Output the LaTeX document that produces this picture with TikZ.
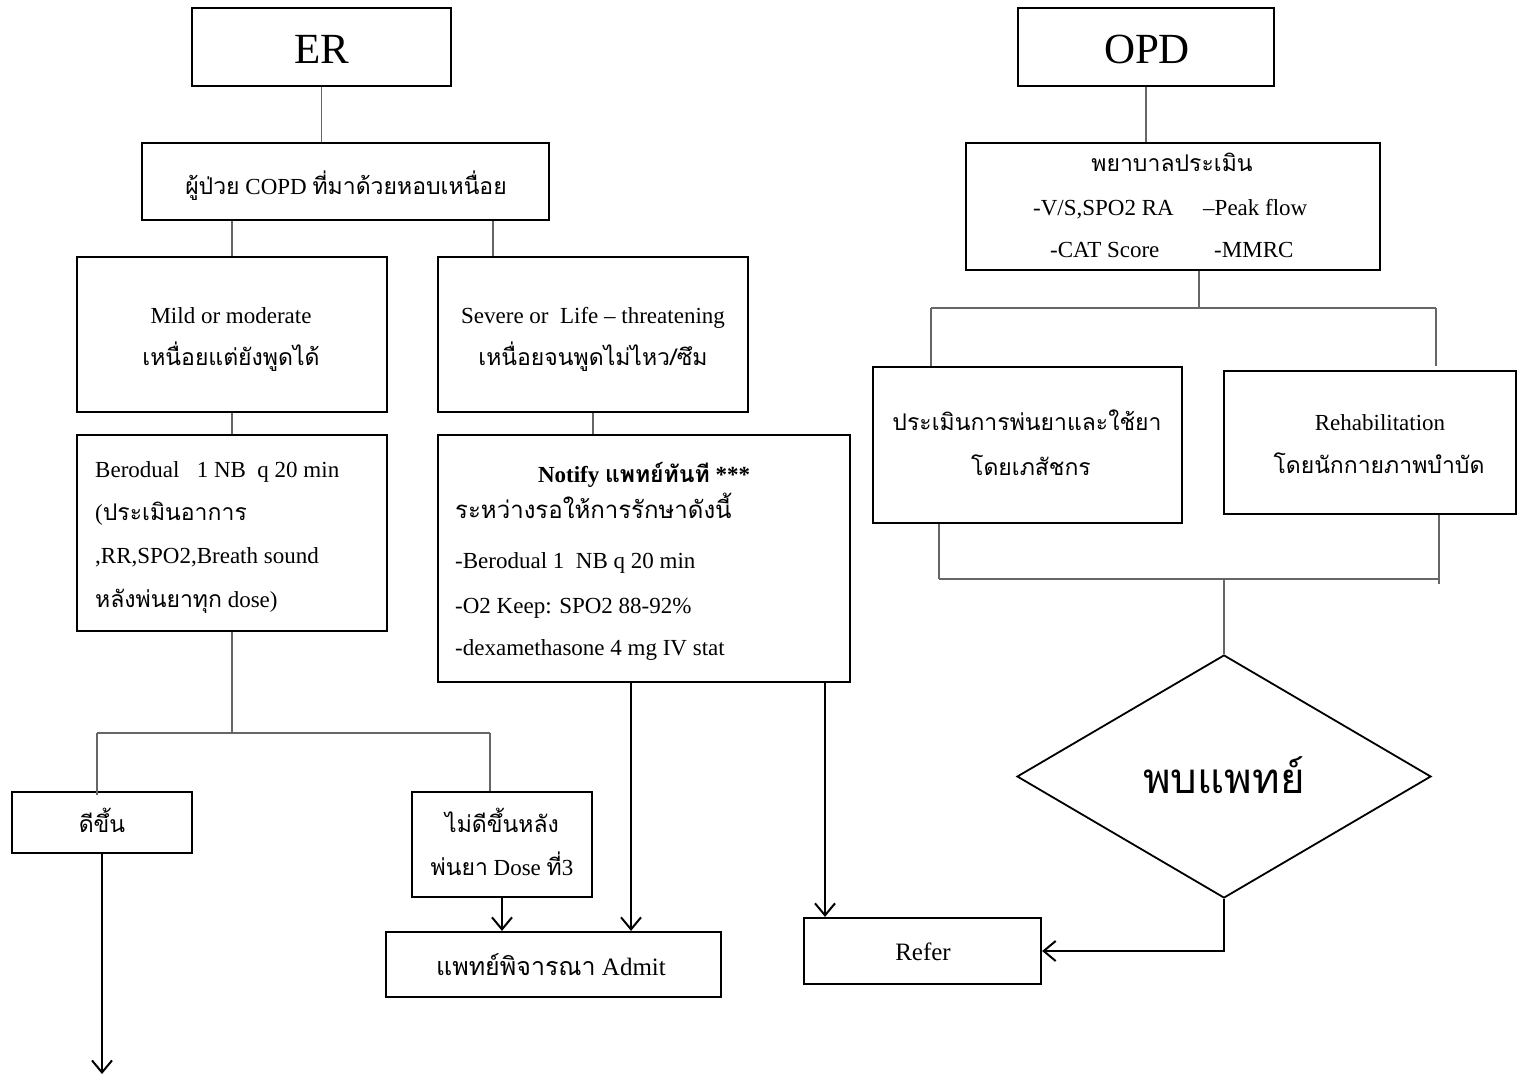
\documentclass[tikz,border=0pt]{standalone}
\usepackage{fontspec}
\setmainfont{Liberation Serif}
\newfontfamily\thaifont[Script=Thai]{Loma}
\newcommand\tha[1]{{\thaifont #1}}
\newcommand\bodysize{\fontsize{23}{27}\selectfont}
\usetikzlibrary{arrows.meta,shapes.geometric}

\tikzset{
  box/.style={draw=black, line width=2.2pt, rectangle, inner sep=0pt},
  link/.style={draw=black!60, line width=1.2pt},
  flow/.style={draw=black, line width=2pt,
    -{Straight Barb[length=12pt,width=20pt,line width=2pt]}},
  ctxt/.style={anchor=base, inner sep=0pt, font=\bodysize},
  ltxt/.style={anchor=base west, inner sep=0pt, font=\bodysize},
}

\begin{document}
\begin{tikzpicture}[x=1pt,y=-1pt]
\useasboundingbox[fill=white] (0,0) rectangle (1517,1075);

% ---------- ER branch boxes ----------
\node[box, minimum width=259pt, minimum height=78pt]  (er)    at (321.5,47)   {};
\node[box, minimum width=407pt, minimum height=77pt]  (pt)    at (345.5,181.5){};
\node[box, minimum width=310pt, minimum height=155pt] (mild)  at (232,334.5)  {};
\node[box, minimum width=310pt, minimum height=155pt] (sev)   at (593,334.5)  {};
\node[box, minimum width=310pt, minimum height=196pt] (bero)  at (232,533)    {};
\node[box, minimum width=412pt, minimum height=247pt] (noti)  at (644,558.5)  {};
\node[box, minimum width=180pt, minimum height=61pt]  (better) at (102,822.5) {};
\node[box, minimum width=180pt, minimum height=105pt] (worse) at (502,844.5)  {};
\node[box, minimum width=335pt, minimum height=65pt]  (admit) at (553.5,964.5){};
\node[box, minimum width=237pt, minimum height=66pt]  (refer) at (922.5,951)  {};

% ---------- OPD branch boxes ----------
\node[box, minimum width=256pt, minimum height=78pt]  (opd)   at (1146,47)    {};
\node[box, minimum width=414pt, minimum height=127pt] (nurse) at (1173,206.5) {};
\node[box, minimum width=309pt, minimum height=156pt] (pharm) at (1027.5,445) {};
\node[box, minimum width=292pt, minimum height=143pt] (rehab) at (1370,442.5) {};
\node[draw=black, line width=1.8pt, diamond, inner sep=0pt, aspect=1.7,
      minimum width=414pt, minimum height=243pt]      (dia)   at (1224,776.5) {};

% ---------- texts ----------
\node[ctxt, font=\fontsize{43}{48}\selectfont] (erT)  at (321.5,64) {ER};
\node[ctxt, font=\fontsize{43}{48}\selectfont] (opdT) at (1147,64)  {OPD};

\node[ctxt] (ptT) at (346,195) {\tha{ผู้ป่วย} COPD \tha{ที่มาด้วยหอบเหนื่อย}};

\node[ctxt] (mildA) at (231,323) {Mild or moderate};
\node[ctxt] (mildB) at (231,365) {\tha{เหนื่อยแต่ยังพูดได้}};
\node[ctxt] (sevA)  at (593,323) {Severe or\ \ Life -- threatening};
\node[ctxt] (sevB)  at (593,365) {\tha{เหนื่อยจนพูดไม่ไหว/ซึม}};

\node[ltxt] (beroA) at (95,477) {Berodual\ \ \ 1 NB\ \ q 20 min};
\node[ltxt] (beroB) at (95,520) {(\tha{ประเมินอาการ}};
\node[ltxt] (beroC) at (95,563) {,RR,SPO2,Breath sound};
\node[ltxt] (beroD) at (95,607) {\tha{หลังพ่นยาทุก} dose)};

\node[ctxt] (notiA) at (644,482) {\bfseries Notify \tha{\bfseries แพทย์ทันที} ***};
\node[ltxt, font=\fontsize{24}{28}\selectfont] (notiB) at (455,518) {\tha{ระหว่างรอให้การรักษาดังนี้}};
\node[ltxt] (notiC) at (455,568) {-Berodual 1\ \ NB q 20 min};
\node[ltxt] (notiD) at (455,613) {-O2 Keep: SPO2 88-92\%};
\node[ltxt] (notiE) at (455,655) {-dexamethasone 4 mg IV stat};

\node[ctxt] (betterT) at (102,832) {\tha{ดีขึ้น}};
\node[ctxt] (worseA)  at (502,832) {\tha{ไม่ดีขึ้นหลัง}};
\node[ctxt] (worseB)  at (502,875) {\tha{พ่นยา} Dose \tha{ที่}3};
\node[ctxt, font=\fontsize{25}{29}\selectfont] (admitT) at (551,975) {\tha{แพทย์พิจารณา} Admit};
\node[ctxt, font=\fontsize{25}{29}\selectfont] (referT) at (923,960) {Refer};

\node[ctxt]  (nurseA) at (1172,172) {\tha{พยาบาลประเมิน}};
\node[ltxt]  (nurseB) at (1033,216) {-V/S,SPO2 RA};
\node[ltxt]  (nurseC) at (1203,216) {--Peak flow};
\node[ltxt]  (nurseD) at (1050,258) {-CAT Score};
\node[ltxt]  (nurseE) at (1214,258) {-MMRC};

\node[ctxt] (pharmA) at (1027,430) {\tha{ประเมินการพ่นยาและใช้ยา}};
\node[ctxt] (pharmB) at (1031,475) {\tha{โดยเภสัชกร}};
\node[ctxt] (rehabA) at (1380,430) {Rehabilitation};
\node[ctxt] (rehabB) at (1379,473) {\tha{โดยนักกายภาพบำบัด}};

\node[ctxt, font=\fontsize{42}{48}\selectfont] (diaT) at (1224,793) {\tha{พบแพทย์}};

% ---------- junction points ----------
\coordinate (c1) at (493,0);
\coordinate (c2) at (631,0);
\coordinate (c3) at (825,0);
\coordinate (j1l) at (97,733);
\coordinate (j1r) at (490,733);
\coordinate (bend) at (102,1074);
\coordinate (c4) at (1199,0);
\coordinate (j2l) at (931,308);
\coordinate (j2r) at (1436,308);
\coordinate (j3l) at (939,579);
\coordinate (j3r) at (1439,579);

% ---------- ER connectors ----------
\draw[link] (er.south) -- (er.south |- pt.north);
\draw[link] (mild.north |- pt.south) -- (mild.north);
\draw[link] (pt.south -| c1) -- (sev.north -| c1);
\draw[link] (mild.south) -- (bero.north);
\draw[link] (sev.south) -- (sev.south |- noti.north);
\draw[link] (bero.south) -- (bero.south |- j1l);
\draw[link] (j1l) -- (j1r);
\draw[link] (j1l) -- ([yshift=-4pt]j1l |- better.north);
\draw[link] (j1r) -- (j1r |- worse.north);
\draw[flow] (better.south) -- (bend);
\draw[flow] (worse.south) -- (worse.south |- admit.north);
\draw[flow] (noti.south -| c2) -- (admit.north -| c2);
\draw[flow] (noti.south -| c3) -- (refer.north -| c3);

% ---------- OPD connectors ----------
\draw[link] (opd.south) -- (opd.south |- nurse.north);
\draw[link] (nurse.south -| c4) -- (j2l -| c4);
\draw[link] (j2l) -- (j2r);
\draw[link] (j2l) -- (j2l |- pharm.north);
\draw[link] (j2r) -- (j2r |- pharm.north);
\draw[link] (pharm.south -| j3l) -- (j3l);
\draw[link] (rehab.south -| j3r) -- ([yshift=-5pt]j3r);
\draw[link] (j3l) -- (j3r);
\draw[link] (j3l -| dia.north) -- (dia.north);
\draw[flow] (dia.south) -- (dia.south |- refer.east) -- (refer.east);

\end{tikzpicture}
\end{document}
